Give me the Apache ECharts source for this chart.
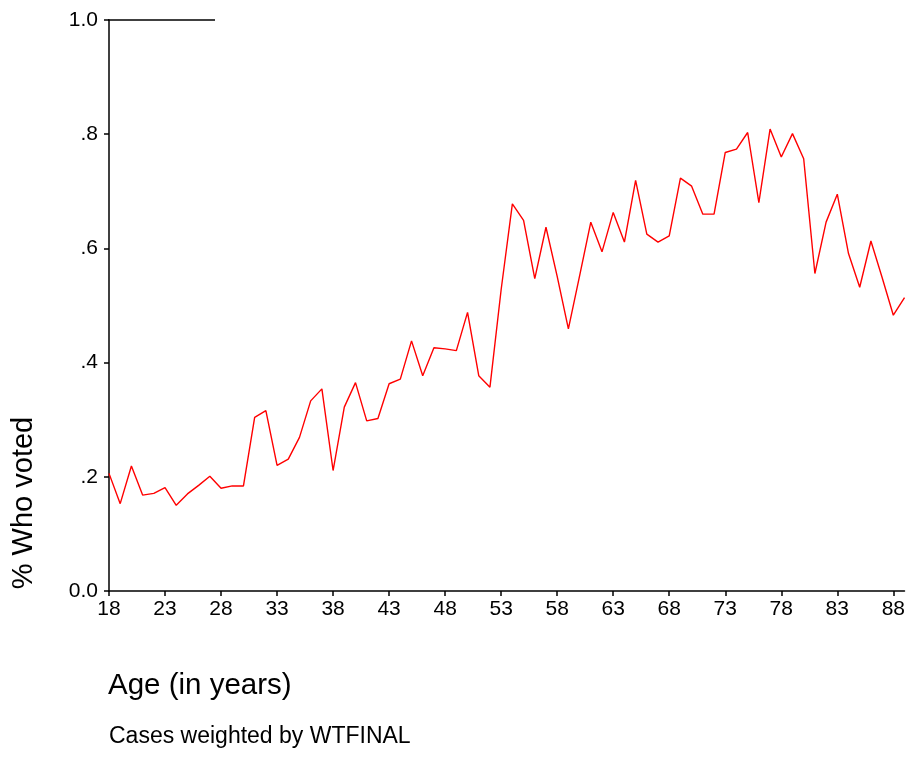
<!DOCTYPE html>
<html>
<head>
<meta charset="utf-8">
<script src="https://cdn.jsdelivr.net/npm/echarts@6/dist/echarts.min.js"></script>
<style>html,body{margin:0;padding:0;background:#fff;}#c{width:908px;height:760px;}</style>
</head>
<body>
<div id="c"></div>
<script>
const ages = [];
for (let a = 18; a <= 89; a++) ages.push(String(a));
const voted = [
  0.206, 0.153, 0.219, 0.168, 0.171, 0.181, 0.150, 0.170, 0.185, 0.201,
  0.180, 0.184, 0.184, 0.304, 0.316, 0.220, 0.231, 0.269, 0.333, 0.354,
  0.211, 0.322, 0.365, 0.298, 0.302, 0.363, 0.371, 0.438, 0.377, 0.426,
  0.424, 0.421, 0.488, 0.377, 0.357, 0.528, 0.678, 0.649, 0.547, 0.637,
  0.551, 0.459, 0.552, 0.646, 0.594, 0.663, 0.611, 0.719, 0.625, 0.611,
  0.622, 0.723, 0.709, 0.660, 0.660, 0.768, 0.774, 0.803, 0.680, 0.809,
  0.760, 0.801, 0.757, 0.556, 0.646, 0.695, 0.591, 0.532, 0.613, 0.549,
  0.483, 0.514
];
const yTickLabels = {0: '0.0', 0.2: '.2', 0.4: '.4', 0.6: '.6', 0.8: '.8', 1: '1.0'};
const xTitle = 'Age (in years)';
const yTitle = '% Who voted';
const footnote = 'Cases weighted by WTFINAL';

const chart = echarts.init(document.getElementById('c'), null, {renderer: 'canvas'});
const font = 'Liberation Sans, Arial, sans-serif';
chart.setOption({
  animation: false,
  backgroundColor: '#fff',
  grid: {left: 109, right: 2, top: 20, bottom: 169, containLabel: false},
  xAxis: {
    type: 'category',
    data: ages,
    boundaryGap: false,
    axisLine: {lineStyle: {color: '#000', width: 1.5}},
    axisTick: {interval: 4, length: 5, lineStyle: {color: '#000', width: 1.5}},
    axisLabel: {interval: 4, color: '#000', fontSize: 21, fontFamily: font, margin: 8},
    splitLine: {show: false}
  },
  yAxis: {
    type: 'value',
    min: 0, max: 1, interval: 0.2,
    axisLine: {show: true, lineStyle: {color: '#000', width: 1.5}},
    axisTick: {show: true, length: 5, lineStyle: {color: '#000', width: 1.5}},
    axisLabel: {
      color: '#000', fontSize: 21, fontFamily: font, margin: 11,
      formatter: v => yTickLabels[Math.round(v * 10) / 10] ?? ''
    },
    splitLine: {show: false}
  },
  series: [{
    type: 'line',
    data: voted,
    symbol: 'none',
    lineStyle: {color: '#ff0000', width: 1.4},
    itemStyle: {color: '#ff0000'}
  }],
  graphic: [
    {type: 'line', shape: {x1: 108, y1: 20, x2: 215, y2: 20}, style: {stroke: '#000', lineWidth: 1.5}},
    {type: 'text', x: 108, y: 686, style: {text: xTitle, fontSize: 29.5, fontFamily: font, fill: '#000', verticalAlign: 'middle'}},
    {type: 'text', x: 109, y: 737, style: {text: footnote, fontSize: 23, fontFamily: font, fill: '#000', verticalAlign: 'middle'}},
    {type: 'text', x: 24, y: 503, rotation: Math.PI / 2,
     style: {text: yTitle, fontSize: 29, fontFamily: font, fill: '#000', align: 'center', verticalAlign: 'middle'}}
  ]
});
</script>
</body>
</html>
